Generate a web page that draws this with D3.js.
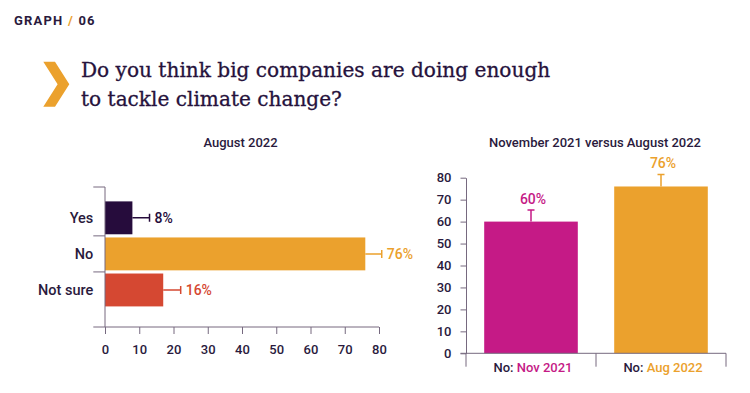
<!DOCTYPE html>
<html>
<head>
<meta charset="utf-8">
<script src="https://cdn.jsdelivr.net/npm/d3@7"></script>
<style>
  body { margin: 0; background: #fff; }
  text { font-family: Roboto, "Noto Sans", sans-serif; }
</style>
</head>
<body>
<div id="chart"></div>
<script>
// left chart: August 2022
const augCategories = ['Yes', 'No', 'Not sure']
const augValues = [8, 76, 17]
const augErrors = [13, 80.8, 22.1]
const augLabels = ['8%', '76%', '16%']
const augTicks = [0, 10, 20, 30, 40, 50, 60, 70, 80]

// right chart: "No" answers, Nov 2021 vs Aug 2022
const cmpCategories = ['Nov 2021', 'Aug 2022']
const cmpValues = [60, 76]
const cmpErrors = [65.3, 81.5]
const cmpLabels = ['60%', '76%']
const cmpTicks = [0, 10, 20, 30, 40, 50, 60, 70, 80]

const ink = '#2a1a3d'
const axisColor = '#76697f'
const augColors = ['#260c3c', '#eba12d', '#d54832']
const cmpColors = ['#c51a86', '#eba12d']

const svg = d3.select('#chart')
  .append('svg')
  .attr('width', 750)
  .attr('height', 393)

//header
const head = svg.append('text')
  .attr('x', 14)
  .attr('y', 25)
  .attr('font-size', 13)
  .attr('font-weight', 700)
  .attr('letter-spacing', 1.2)
  .attr('fill', ink)
head.append('tspan').text('GRAPH ')
head.append('tspan').attr('fill', '#eba12d').text('/')
head.append('tspan').text(' 06')

//chevron
svg.append('path')
  .attr('d', 'M43.3,61.7 L55,61.7 L69.3,84.2 L55,106.7 L43.3,106.7 L57.6,84.2 Z')
  .attr('fill', '#eba12d')

const titleLines = ['Do you think big companies are doing enough', 'to tackle climate change?']
svg.selectAll('.title')
  .data(titleLines)
  .join('text')
  .attr('class', 'title')
  .attr('x', 81)
  .attr('y', (d, i) => 77.3 + i * 28.7)
  .style('font-family', '"DejaVu Serif", serif')
  .attr('font-size', 20.1)
  .attr('fill', '#26123c')
  .attr('stroke', '#26123c')
  .attr('stroke-width', 0.3)
  .text(d => d)

// ---------- left chart ----------
const left = svg.append('g')

const xLeft = d3.scaleLinear()
  .domain([0, 80])
  .range([105, 379])

const yLeft = d3.scaleBand()
  .domain(augCategories)
  .range([199.8, 308])
  .paddingInner(0.088)
  .paddingOuter(0.044)

left.append('text')
  .attr('x', 240.5)
  .attr('y', 147.3)
  .attr('text-anchor', 'middle')
  .attr('font-size', 13)
  .attr('font-weight', 500)
  .attr('fill', ink)
  .text('August 2022')

left.selectAll('.bar')
  .data(augValues)
  .join('rect')
  .attr('class', 'bar')
  .attr('x', xLeft(0))
  .attr('y', (d, i) => yLeft(augCategories[i]))
  .attr('width', d => xLeft(d) - xLeft(0))
  .attr('height', yLeft.bandwidth())
  .attr('fill', (d, i) => augColors[i])

//error bars
const cyLeft = c => yLeft(c) + yLeft.bandwidth() / 2
left.selectAll('.err')
  .data(augErrors)
  .join('path')
  .attr('class', 'err')
  .attr('d', (d, i) => {
    const y = cyLeft(augCategories[i])
    return `M${xLeft(augValues[i])},${y}H${xLeft(d)}M${xLeft(d)},${y - 4}V${y + 4}`
  })
  .attr('stroke', (d, i) => augColors[i])
  .attr('stroke-width', 1.5)
  .attr('fill', 'none')

left.selectAll('.val')
  .data(augLabels)
  .join('text')
  .attr('class', 'val')
  .attr('x', (d, i) => xLeft(augErrors[i]) + 5)
  .attr('y', (d, i) => cyLeft(augCategories[i]) + 5)
  .attr('font-size', 14)
  .attr('font-weight', 500)
  .attr('fill', (d, i) => augColors[i])
  .text(d => d)

left.selectAll('.cat')
  .data(augCategories)
  .join('text')
  .attr('class', 'cat')
  .attr('x', 93.3)
  .attr('y', d => cyLeft(d) + 5)
  .attr('text-anchor', 'end')
  .attr('font-size', 14.5)
  .attr('font-weight', 500)
  .attr('fill', ink)
  .text(d => d)

//y axis line with ticks at the top and between bands
const leftTop = 187, leftBottom = 327
left.append('line')
  .attr('x1', xLeft(0)).attr('x2', xLeft(0))
  .attr('y1', leftTop).attr('y2', leftBottom)
  .attr('stroke', axisColor)
const bandEdges = [leftTop].concat(augCategories.slice(1).map(c => yLeft(c) - yLeft.step() * yLeft.paddingInner() / 2))
left.selectAll('.ytick')
  .data(bandEdges)
  .join('line')
  .attr('class', 'ytick')
  .attr('x1', 93.3).attr('x2', xLeft(0))
  .attr('y1', d => d).attr('y2', d => d)
  .attr('stroke', axisColor)

//x axis
const xAxisLeft = left.append('g')
  .attr('transform', `translate(0,${leftBottom})`)
  .call(d3.axisBottom(xLeft).tickValues(augTicks).tickSize(7).tickSizeOuter(0).tickPadding(11))
xAxisLeft.select('.domain').attr('d', `M93.3,0H${xLeft(80)}`).attr('stroke', axisColor)
xAxisLeft.selectAll('.tick line').attr('stroke', axisColor)
xAxisLeft.selectAll('.tick text')
  .attr('fill', ink)
  .attr('font-size', 13)
  .attr('font-weight', 500)
  .style('font-family', 'Roboto, sans-serif')

// ---------- right chart ----------
const right = svg.append('g')

const xRight = d3.scaleBand()
  .domain(cmpCategories)
  .range([466, 726])
  .paddingInner(0.28)
  .paddingOuter(0.14)

const yRight = d3.scaleLinear()
  .domain([0, 80])
  .range([353.3, 177.7])

right.append('text')
  .attr('x', 595)
  .attr('y', 147.3)
  .attr('text-anchor', 'middle')
  .attr('font-size', 13)
  .attr('font-weight', 500)
  .attr('fill', ink)
  .text('November 2021 versus August 2022')

right.selectAll('.bar')
  .data(cmpValues)
  .join('rect')
  .attr('class', 'bar')
  .attr('x', (d, i) => xRight(cmpCategories[i]))
  .attr('y', d => yRight(d))
  .attr('width', xRight.bandwidth())
  .attr('height', d => yRight(0) - yRight(d))
  .attr('fill', (d, i) => cmpColors[i])

const cxRight = c => xRight(c) + xRight.bandwidth() / 2
right.selectAll('.err')
  .data(cmpErrors)
  .join('path')
  .attr('class', 'err')
  .attr('d', (d, i) => {
    const x = cxRight(cmpCategories[i])
    return `M${x},${yRight(cmpValues[i])}V${yRight(d)}M${x - 3.5},${yRight(d)}H${x + 3.5}`
  })
  .attr('stroke', (d, i) => cmpColors[i])
  .attr('stroke-width', 1.5)
  .attr('fill', 'none')

right.selectAll('.val')
  .data(cmpLabels)
  .join('text')
  .attr('class', 'val')
  .attr('x', (d, i) => cxRight(cmpCategories[i]) + 2)
  .attr('y', (d, i) => yRight(cmpErrors[i]) - 6)
  .attr('text-anchor', 'middle')
  .attr('font-size', 14)
  .attr('font-weight', 500)
  .attr('fill', (d, i) => cmpColors[i])
  .text(d => d)

//y axis
const yAxisRight = right.append('g')
  .attr('transform', 'translate(466,0)')
  .call(d3.axisLeft(yRight).tickValues(cmpTicks).tickSize(5.5).tickSizeOuter(0).tickPadding(9))
yAxisRight.select('.domain').attr('stroke', axisColor)
yAxisRight.selectAll('.tick line').attr('stroke', axisColor)
yAxisRight.selectAll('.tick text')
  .attr('fill', ink)
  .attr('font-size', 13)
  .attr('font-weight', 500)
  .style('font-family', 'Roboto, sans-serif')

//x axis with ticks at band edges
right.append('line')
  .attr('x1', 460.5).attr('x2', 726)
  .attr('y1', yRight(0)).attr('y2', yRight(0))
  .attr('stroke', axisColor)
const cmpEdges = [466].concat(cmpCategories.map(c => xRight(c) + xRight.bandwidth() + xRight.step() * xRight.paddingInner() / 2))
right.selectAll('.xtick')
  .data(cmpEdges)
  .join('line')
  .attr('class', 'xtick')
  .attr('x1', d => d).attr('x2', d => d)
  .attr('y1', yRight(0)).attr('y2', yRight(0) + 13.4)
  .attr('stroke', axisColor)

const cmpCat = right.selectAll('.cat')
  .data(cmpCategories)
  .join('text')
  .attr('class', 'cat')
  .attr('x', d => cxRight(d) + 2)
  .attr('y', 371.7)
  .attr('text-anchor', 'middle')
  .attr('font-size', 13)
  .attr('font-weight', 500)
  .attr('fill', ink)
cmpCat.append('tspan').text('No: ')
cmpCat.append('tspan')
  .attr('fill', (d, i) => cmpColors[i])
  .text(d => d)
</script>
</body>
</html>
